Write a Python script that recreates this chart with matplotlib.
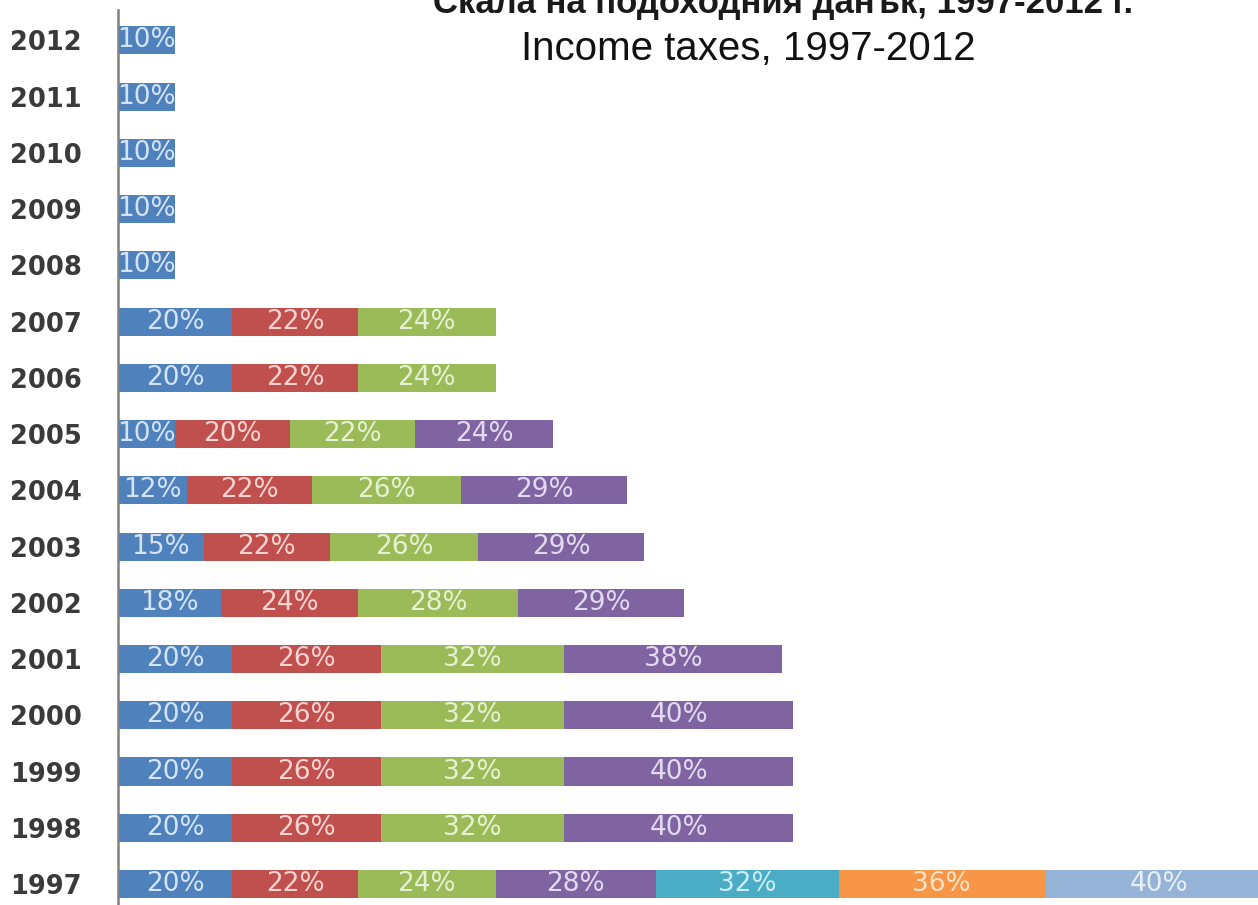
import matplotlib
matplotlib.use("Agg")
import matplotlib.pyplot as plt

# data: tax brackets (%) per year, bottom (1997) to top (2012)
years = [1997, 1998, 1999, 2000, 2001, 2002, 2003, 2004,
         2005, 2006, 2007, 2008, 2009, 2010, 2011, 2012]
rates = [
    [20, 22, 24, 28, 32, 36, 40],  # 1997
    [20, 26, 32, 40],              # 1998
    [20, 26, 32, 40],              # 1999
    [20, 26, 32, 40],              # 2000
    [20, 26, 32, 38],              # 2001
    [18, 24, 28, 29],              # 2002
    [15, 22, 26, 29],              # 2003
    [12, 22, 26, 29],              # 2004
    [10, 20, 22, 24],              # 2005
    [20, 22, 24],                  # 2006
    [20, 22, 24],                  # 2007
    [10],                          # 2008
    [10],                          # 2009
    [10],                          # 2010
    [10],                          # 2011
    [10],                          # 2012
]

title_bg = "Скала на подоходния данък, 1997-2012 г."
title_en = "Income taxes, 1997-2012"

bar_colors = ["#4F81BD", "#C0504D", "#9BBB59", "#8064A2",
              "#4BACC6", "#F79646", "#95B3D7"]
text_colors = ["#d4e3f7", "#f9d3d2", "#e6f0d2", "#e2daef",
               "#cdeef7", "#fde2c9", "#e8eef8"]

fig = plt.figure(figsize=(12.58, 9.05), dpi=100)
ax = fig.add_axes([118 / 1258, 0, 1 - 118 / 1258, 895 / 905])

n_brackets = max(len(r) for r in rates)
for j in range(n_brackets):
    ys, widths, lefts = [], [], []
    for i, r in enumerate(rates):
        if len(r) > j:
            ys.append(i)
            widths.append(r[j])
            lefts.append(sum(r[:j]))
    ax.barh(ys, widths, left=lefts, height=0.5, color=bar_colors[j],
            edgecolor="none")
    for y, w, l in zip(ys, widths, lefts):
        ax.text(l + w / 2, y, f"{w}%", ha="center", va="center",
                fontsize=19, color=text_colors[j], family="DejaVu Sans")

ax.set_xlim(0, 199.3)
ax.set_ylim(-0.373, 15.54)
ax.set_yticks(range(len(years)))
ax.set_yticklabels([str(y) for y in years], fontsize=18.5, fontweight="bold",
                   color="#3a3a3a", family="DejaVu Sans")
ax.tick_params(axis="y", length=0, pad=26)
ax.set_xticks([])
for s in ["top", "right", "bottom"]:
    ax.spines[s].set_visible(False)
ax.spines["left"].set_color("#808080")
ax.spines["left"].set_linewidth(1.8)

# the reference screenshot cuts the upper title at the top edge
fig.text(783 / 1258, 1 - 13 / 905, title_bg, ha="center", va="baseline",
         fontsize=25, fontweight="bold", color="#1a1a1a",
         family="Liberation Sans")
fig.text(748 / 1258, 1 - 60 / 905, title_en, ha="center", va="baseline",
         fontsize=29, color="#111111", family="Liberation Sans")

fig.savefig("out.png", dpi=100)
